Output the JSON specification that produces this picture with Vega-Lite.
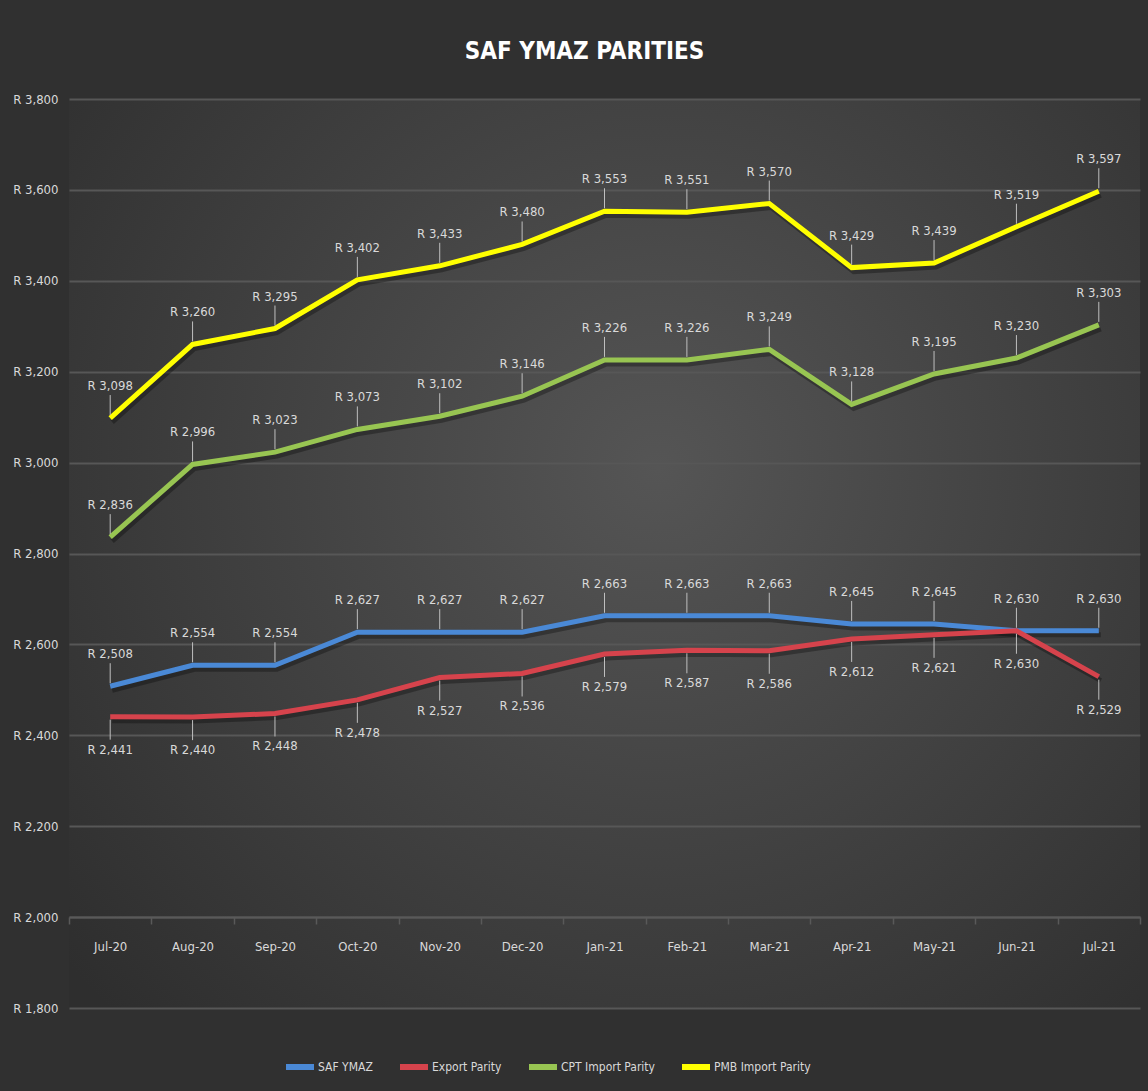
{
  "$schema": "https://vega.github.io/schema/vega-lite/v6.json",
  "width": 1071,
  "height": 909,
  "autosize": {"type": "none"},
  "padding": {"left": 69, "top": 99, "right": 8, "bottom": 83},
  "background": "#303030",
  "title": {
    "text": "SAF YMAZ PARITIES",
    "fontSize": 24,
    "fontWeight": "bold",
    "color": "#ffffff",
    "font": "'Liberation Sans Narrow', 'DejaVu Sans Condensed', Roboto, sans-serif",
    "anchor": "middle",
    "dx": -20,
    "offset": 29
  },
  "config": {
    "view": {
      "stroke": null,
      "fill": {
        "gradient": "radial",
        "x1": 0.55, "y1": 0.42, "r1": 0,
        "x2": 0.55, "y2": 0.42, "r2": 0.72,
        "stops": [
          {"offset": 0, "color": "#555555"},
          {"offset": 1, "color": "#2e2e2e"}
        ]
      }
    },
    "font": "'Liberation Sans Narrow', 'DejaVu Sans Condensed', Roboto, sans-serif"
  },
  "data": {
    "values": [
      {"month": "Jul-20", "series": "SAF YMAZ", "value": 2508},
      {"month": "Aug-20", "series": "SAF YMAZ", "value": 2554},
      {"month": "Sep-20", "series": "SAF YMAZ", "value": 2554},
      {"month": "Oct-20", "series": "SAF YMAZ", "value": 2627},
      {"month": "Nov-20", "series": "SAF YMAZ", "value": 2627},
      {"month": "Dec-20", "series": "SAF YMAZ", "value": 2627},
      {"month": "Jan-21", "series": "SAF YMAZ", "value": 2663},
      {"month": "Feb-21", "series": "SAF YMAZ", "value": 2663},
      {"month": "Mar-21", "series": "SAF YMAZ", "value": 2663},
      {"month": "Apr-21", "series": "SAF YMAZ", "value": 2645},
      {"month": "May-21", "series": "SAF YMAZ", "value": 2645},
      {"month": "Jun-21", "series": "SAF YMAZ", "value": 2630},
      {"month": "Jul-21", "series": "SAF YMAZ", "value": 2630},
      {"month": "Jul-20", "series": "Export Parity", "value": 2441},
      {"month": "Aug-20", "series": "Export Parity", "value": 2440},
      {"month": "Sep-20", "series": "Export Parity", "value": 2448},
      {"month": "Oct-20", "series": "Export Parity", "value": 2478},
      {"month": "Nov-20", "series": "Export Parity", "value": 2527},
      {"month": "Dec-20", "series": "Export Parity", "value": 2536},
      {"month": "Jan-21", "series": "Export Parity", "value": 2579},
      {"month": "Feb-21", "series": "Export Parity", "value": 2587},
      {"month": "Mar-21", "series": "Export Parity", "value": 2586},
      {"month": "Apr-21", "series": "Export Parity", "value": 2612},
      {"month": "May-21", "series": "Export Parity", "value": 2621},
      {"month": "Jun-21", "series": "Export Parity", "value": 2630},
      {"month": "Jul-21", "series": "Export Parity", "value": 2529},
      {"month": "Jul-20", "series": "CPT Import Parity", "value": 2836},
      {"month": "Aug-20", "series": "CPT Import Parity", "value": 2996},
      {"month": "Sep-20", "series": "CPT Import Parity", "value": 3023},
      {"month": "Oct-20", "series": "CPT Import Parity", "value": 3073},
      {"month": "Nov-20", "series": "CPT Import Parity", "value": 3102},
      {"month": "Dec-20", "series": "CPT Import Parity", "value": 3146},
      {"month": "Jan-21", "series": "CPT Import Parity", "value": 3226},
      {"month": "Feb-21", "series": "CPT Import Parity", "value": 3226},
      {"month": "Mar-21", "series": "CPT Import Parity", "value": 3249},
      {"month": "Apr-21", "series": "CPT Import Parity", "value": 3128},
      {"month": "May-21", "series": "CPT Import Parity", "value": 3195},
      {"month": "Jun-21", "series": "CPT Import Parity", "value": 3230},
      {"month": "Jul-21", "series": "CPT Import Parity", "value": 3303},
      {"month": "Jul-20", "series": "PMB Import Parity", "value": 3098},
      {"month": "Aug-20", "series": "PMB Import Parity", "value": 3260},
      {"month": "Sep-20", "series": "PMB Import Parity", "value": 3295},
      {"month": "Oct-20", "series": "PMB Import Parity", "value": 3402},
      {"month": "Nov-20", "series": "PMB Import Parity", "value": 3433},
      {"month": "Dec-20", "series": "PMB Import Parity", "value": 3480},
      {"month": "Jan-21", "series": "PMB Import Parity", "value": 3553},
      {"month": "Feb-21", "series": "PMB Import Parity", "value": 3551},
      {"month": "Mar-21", "series": "PMB Import Parity", "value": 3570},
      {"month": "Apr-21", "series": "PMB Import Parity", "value": 3429},
      {"month": "May-21", "series": "PMB Import Parity", "value": 3439},
      {"month": "Jun-21", "series": "PMB Import Parity", "value": 3519},
      {"month": "Jul-21", "series": "PMB Import Parity", "value": 3597}
    ]
  },
  "transform": [
    {"calculate": "'R ' + format(datum.value, ',')", "as": "label"}
  ],
  "encoding": {
    "x": {
      "field": "month",
      "type": "ordinal",
      "sort": ["Jul-20","Aug-20","Sep-20","Oct-20","Nov-20","Dec-20","Jan-21","Feb-21","Mar-21","Apr-21","May-21","Jun-21","Jul-21"],
      "scale": {"paddingInner": 0, "paddingOuter": 0},
      "axis": {
        "title": null,
        "orient": "bottom",
        "offset": -91,
        "labelAngle": 0,
        "labelColor": "#d9d9d9",
        "labelFontSize": 13,
        "labelPadding": 16,
        "domainColor": "#595959",
        "domainWidth": 2,
        "tickColor": "#595959",
        "tickWidth": 1.5,
        "tickSize": 7,
        "tickBand": "extent",
        "grid": false
      }
    },
    "y": {
      "field": "value",
      "type": "quantitative",
      "scale": {"domain": [1800, 3800], "nice": false, "zero": false},
      "axis": {
        "title": null,
        "values": [1800, 2000, 2200, 2400, 2600, 2800, 3000, 3200, 3400, 3600, 3800],
        "labelExpr": "'R ' + format(datum.value, ',')",
        "labelColor": "#d9d9d9",
        "labelFontSize": 13,
        "labelPadding": 11,
        "domain": false,
        "ticks": false,
        "gridColor": "#575757",
        "gridWidth": 2
      }
    }
  },
  "layer": [
    {
      "mark": {"type": "line", "strokeWidth": 5, "color": "#000000", "opacity": 0.3, "xOffset": 2, "yOffset": 4},
      "encoding": {"detail": {"field": "series"}}
    },
    {
      "mark": {"type": "line", "strokeWidth": 5, "strokeJoin": "miter"},
      "encoding": {
        "color": {
          "field": "series",
          "type": "nominal",
          "sort": ["SAF YMAZ", "Export Parity", "CPT Import Parity", "PMB Import Parity"],
          "scale": {
            "domain": ["SAF YMAZ", "Export Parity", "CPT Import Parity", "PMB Import Parity"],
            "range": ["#4a89d6", "#d6434c", "#98c552", "#ffff00"]
          },
          "legend": {
            "title": null,
            "orient": "none",
            "direction": "horizontal",
            "legendX": 214,
            "legendY": 951,
            "symbolType": "stroke",
            "symbolStrokeWidth": 6,
            "symbolSize": 784,
            "labelColor": "#d9d9d9",
            "labelFontSize": 12,
            "labelOffset": 1,
            "columnPadding": 15
          }
        }
      }
    },
    {
      "transform": [{"filter": "datum.series !== 'Export Parity'"}],
      "mark": {"type": "rule", "color": "#bfbfbf", "strokeWidth": 1, "yOffset": -3, "y2Offset": -23},
      "encoding": {"y2": {"field": "value"}}
    },
    {
      "transform": [{"filter": "datum.series === 'Export Parity'"}],
      "mark": {"type": "rule", "color": "#bfbfbf", "strokeWidth": 1, "yOffset": 3, "y2Offset": 23},
      "encoding": {"y2": {"field": "value"}}
    },
    {
      "transform": [{"filter": "datum.series !== 'Export Parity'"}],
      "mark": {"type": "text", "color": "#d9d9d9", "fontSize": 13, "baseline": "middle", "dy": -32},
      "encoding": {"text": {"field": "label"}}
    },
    {
      "transform": [{"filter": "datum.series === 'Export Parity'"}],
      "mark": {"type": "text", "color": "#d9d9d9", "fontSize": 13, "baseline": "middle", "dy": 33},
      "encoding": {"text": {"field": "label"}}
    }
  ]
}
